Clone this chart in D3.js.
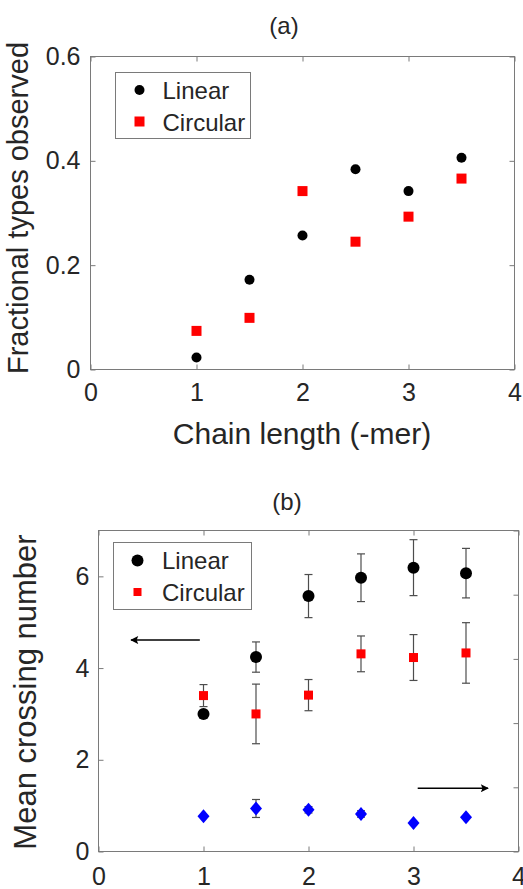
<!DOCTYPE html>
<html>
<head>
<meta charset="utf-8">
<script src="https://cdn.jsdelivr.net/npm/d3@7"></script>
<style>
  body { margin: 0; background: #fff; }
  text { font-family: "Liberation Sans", Arial, sans-serif; fill: #262626; }
</style>
</head>
<body>
<div id="chart"></div>
<script>
// chain lengths shared by both panels
var chainLengths = [1, 1.5, 2, 2.5, 3, 3.5];

// panel (a): fraction of types observed
var fracLinear   = [0.023, 0.172, 0.257, 0.384, 0.342, 0.406];
var fracCircular = [0.074, 0.099, 0.342, 0.245, 0.293, 0.366];

// panel (b): mean crossing number (left axis) + error bars
var crossLinear      = [3.00, 4.24, 5.57, 5.97, 6.19, 6.07];
var crossLinearErr   = [0, 0.33, 0.47, 0.52, 0.61, 0.54];
var crossCircular    = [3.40, 3.00, 3.41, 4.31, 4.23, 4.33];
var crossCircularErr = [0.24, 0.65, 0.34, 0.39, 0.50, 0.66];

// panel (b): blue diamonds on the right axis
var rightVals = [0.55, 0.67, 0.65, 0.585, 0.445, 0.535];
var rightErr  = [0, 0.14, 0.05, 0.05, 0, 0];

var xTicks     = [0, 1, 2, 3, 4];
var fracTicks  = [0, 0.2, 0.4, 0.6];
var crossTicks = [0, 2, 4, 6];
var rightTicks = [0, 1, 2, 3, 4, 5];

var W = 523, H = 889;
var axisColor = "#7a7a7a";

var svg = d3.select("#chart").append("svg")
    .attr("width", W)
    .attr("height", H);

svg.append("rect").attr("width", W).attr("height", H).attr("fill", "#fff");

function styleAxis(g) {
    g.select(".domain").remove();
    g.selectAll(".tick line").attr("stroke", axisColor);
    g.selectAll(".tick text").attr("fill", "#262626")
        .style("font-family", "'Liberation Sans', Arial, sans-serif");
}

// draws a box, inward ticks on four sides (left labelled, bottom labelled)
function frame(g, x, y, yRight, opts) {
    var x0 = x.range()[0], x1 = x.range()[1];
    var y0 = y.range()[0], y1 = y.range()[1];

    g.append("g").attr("transform", "translate(0," + y0 + ")")
        .call(d3.axisBottom(x).tickValues(xTicks).tickSizeInner(-5).tickSizeOuter(0)
            .tickPadding(opts.xPad).tickFormat(d3.format("d")))
        .call(styleAxis)
        .selectAll("text").style("font-size", opts.tickFont + "px");

    g.append("g").attr("transform", "translate(0," + y1 + ")")
        .call(d3.axisTop(x).tickValues(xTicks).tickSizeInner(-5).tickSizeOuter(0).tickFormat(""))
        .call(styleAxis);

    g.append("g").attr("transform", "translate(" + x0 + ",0)")
        .call(d3.axisLeft(y).tickValues(opts.yTicks).tickSizeInner(-5).tickSizeOuter(0)
            .tickPadding(opts.yPad).tickFormat(opts.yFormat))
        .call(styleAxis)
        .selectAll("text").style("font-size", opts.tickFont + "px");

    g.append("g").attr("transform", "translate(" + x1 + ",0)")
        .call(d3.axisRight(yRight).tickValues(opts.rTicks).tickSizeInner(-5).tickSizeOuter(0).tickFormat(""))
        .call(styleAxis);

    g.append("rect")
        .attr("x", x0).attr("y", y1)
        .attr("width", x1 - x0).attr("height", y0 - y1)
        .attr("fill", "none").attr("stroke", axisColor).attr("stroke-width", 1);
}

function legend(g, box, rows) {
    g.append("rect")
        .attr("x", box.x).attr("y", box.y).attr("width", box.w).attr("height", box.h)
        .attr("fill", "#fff").attr("stroke", axisColor).attr("stroke-width", 1);
    rows.forEach(function (r, i) {
        var cy = box.y + box.first + i * box.step;
        if (r.shape === "circle") {
            g.append("circle").attr("cx", box.x + box.mx).attr("cy", cy).attr("r", r.size / 2).attr("fill", r.color);
        } else {
            g.append("rect").attr("x", box.x + box.mx - r.size / 2).attr("y", cy - r.size / 2)
                .attr("width", r.size).attr("height", r.size).attr("fill", r.color);
        }
        g.append("text").attr("x", box.x + box.tx).attr("y", cy + box.base)
            .style("font-size", "24px").text(r.label);
    });
}

// ---------------- panel (a) ----------------
var ga = svg.append("g");
var xa = d3.scaleLinear().domain([0, 4]).range([90.5, 514.5]);
var ya = d3.scaleLinear().domain([0, 0.6]).range([369.5, 56.5]);

frame(ga, xa, ya, ya, {
    xPad: 14, yPad: 10, tickFont: 25,
    yTicks: fracTicks, rTicks: fracTicks, yFormat: d3.format("~g")
});

ga.append("text").attr("x", 284).attr("y", 34).attr("text-anchor", "middle")
    .style("font-size", "24px").text("(a)");
ga.append("text").attr("x", 302).attr("y", 444).attr("text-anchor", "middle")
    .style("font-size", "30px").text("Chain length (-mer)");
ga.append("text").attr("transform", "translate(28,208) rotate(-90)").attr("text-anchor", "middle")
    .style("font-size", "29px").text("Fractional types observed");

ga.selectAll(".lin").data(chainLengths).enter().append("circle")
    .attr("cx", function (d) { return xa(d); })
    .attr("cy", function (d, i) { return ya(fracLinear[i]); })
    .attr("r", 5).attr("fill", "#000");

ga.selectAll(".circ").data(chainLengths).enter().append("rect")
    .attr("x", function (d) { return xa(d) - 5; })
    .attr("y", function (d, i) { return ya(fracCircular[i]) - 5; })
    .attr("width", 10).attr("height", 10).attr("fill", "#ff0000");

legend(ga, { x: 115.5, y: 72.5, w: 135, h: 66, mx: 24, tx: 47, first: 17.5, step: 31.5, base: 9 }, [
    { shape: "circle", color: "#000", size: 10, label: "Linear" },
    { shape: "square", color: "#ff0000", size: 10, label: "Circular" }
]);

// ---------------- panel (b) ----------------
var gb = svg.append("g");
var xb = d3.scaleLinear().domain([0, 4]).range([98.5, 518.5]);
var yb = d3.scaleLinear().domain([0, 7]).range([851.5, 530.5]);
var yr = d3.scaleLinear().domain([0, 5]).range([851.5, 530.5]);

frame(gb, xb, yb, yr, {
    xPad: 16, yPad: 9, tickFont: 25,
    yTicks: crossTicks, rTicks: rightTicks, yFormat: d3.format("d")
});

gb.append("text").attr("x", 287).attr("y", 510).attr("text-anchor", "middle")
    .style("font-size", "24px").text("(b)");
gb.append("text").attr("transform", "translate(36,692) rotate(-90)").attr("text-anchor", "middle")
    .style("font-size", "31px").text("Mean crossing number");

var defs = svg.append("defs");
defs.append("marker").attr("id", "head")
    .attr("viewBox", "0 0 10 10").attr("refX", 9).attr("refY", 5)
    .attr("markerWidth", 9).attr("markerHeight", 8).attr("markerUnits", "userSpaceOnUse")
    .attr("orient", "auto")
    .append("path").attr("d", "M0,0 L10,5 L0,10 L2,5 Z").attr("fill", "#000");

function errorBars(g, vals, errs, scale, color) {
    var cap = 4;
    chainLengths.forEach(function (d, i) {
        if (!errs[i]) return;
        var cx = xb(d), top = scale(vals[i] + errs[i]), bot = scale(vals[i] - errs[i]);
        g.append("line").attr("x1", cx).attr("x2", cx).attr("y1", top).attr("y2", bot)
            .attr("stroke", color).attr("stroke-width", 1.2);
        [top, bot].forEach(function (yy) {
            g.append("line").attr("x1", cx - cap).attr("x2", cx + cap).attr("y1", yy).attr("y2", yy)
                .attr("stroke", color).attr("stroke-width", 1.2);
        });
    });
}

errorBars(gb, crossLinear, crossLinearErr, yb, "#4d4d4d");
gb.selectAll(".linb").data(chainLengths).enter().append("circle")
    .attr("cx", function (d) { return xb(d); })
    .attr("cy", function (d, i) { return yb(crossLinear[i]); })
    .attr("r", 6).attr("fill", "#000");

errorBars(gb, crossCircular, crossCircularErr, yb, "#4d4d4d");
gb.selectAll(".circb").data(chainLengths).enter().append("rect")
    .attr("x", function (d) { return xb(d) - 4.5; })
    .attr("y", function (d, i) { return yb(crossCircular[i]) - 4.5; })
    .attr("width", 9).attr("height", 9).attr("fill", "#ff0000");

errorBars(gb, rightVals, rightErr, yr, "#4d4d4d");
gb.selectAll(".dia").data(chainLengths).enter().append("path")
    .attr("transform", function (d, i) { return "translate(" + xb(d) + "," + yr(rightVals[i]) + ")"; })
    .attr("d", "M0,-7 L6,0 L0,7 L-6,0 Z")
    .attr("fill", "#0000ff");

// arrows pointing at the axis each series belongs to
var arrows = [
    { from: [0.965, 4.61], to: [0.31, 4.61] },
    { from: [3.04, 1.38], to: [3.71, 1.38] }
];
arrows.forEach(function (a) {
    gb.append("line")
        .attr("x1", xb(a.from[0])).attr("y1", yb(a.from[1]))
        .attr("x2", xb(a.to[0])).attr("y2", yb(a.to[1]))
        .attr("stroke", "#000").attr("stroke-width", 1.5)
        .attr("marker-end", "url(#head)");
});

legend(gb, { x: 113.5, y: 542.5, w: 138, h: 67, mx: 24, tx: 48.5, first: 18, step: 31.5, base: 8.5 }, [
    { shape: "circle", color: "#000", size: 12, label: "Linear" },
    { shape: "square", color: "#ff0000", size: 8, label: "Circular" }
]);
</script>
</body>
</html>
